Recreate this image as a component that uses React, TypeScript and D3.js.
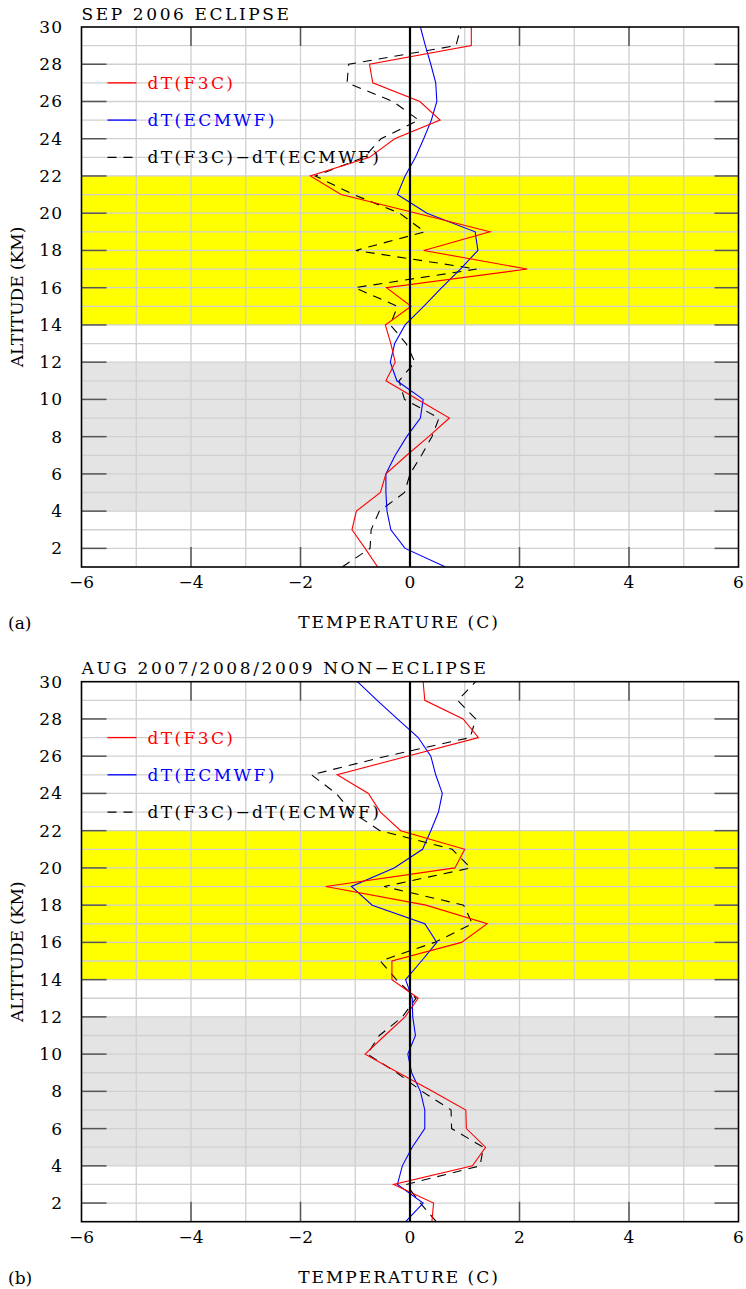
import * as d3 from 'd3';

// altitude levels (km), bottom to top
const altitudes = [1, 2, 3, 4, 5, 6, 7, 8, 9, 10, 11, 12, 13, 14, 15, 16, 17, 18, 19, 20, 21, 22, 23, 24, 25, 26, 27, 28, 29, 30];

// (a) SEP 2006 ECLIPSE
const f3cA = [-0.59, -0.82, -1.06, -0.98, -0.54, -0.44, -0.06, 0.34, 0.72, 0.14, -0.44, -0.27, -0.35, -0.45, 0.02, -0.43, 2.14, 0.25, 1.46, 0.12, -1.26, -1.82, -0.74, -0.28, 0.55, 0.18, -0.68, -0.74, 1.12, 1.12];
const ecmwfA = [0.65, -0.09, -0.35, -0.42, -0.44, -0.44, -0.27, -0.06, 0.19, 0.24, -0.24, -0.36, -0.28, -0.09, 0.25, 0.58, 0.92, 1.24, 1.19, 0.31, -0.23, -0.09, 0.1, 0.25, 0.39, 0.49, 0.47, 0.38, 0.28, 0.19];
const diffA = [-1.24, -0.73, -0.71, -0.56, -0.1, 0.0, 0.21, 0.4, 0.53, -0.1, -0.2, 0.09, -0.07, -0.36, -0.23, -1.01, 1.22, -0.99, 0.27, -0.19, -1.03, -1.73, -0.84, -0.53, 0.16, -0.31, -1.15, -1.12, 0.84, 0.93];

// (b) AUG 2007/2008/2009 NON-ECLIPSE
const f3cB = [0.4, 0.43, -0.3, 1.14, 1.38, 1.03, 1.02, 0.41, -0.21, -0.82, -0.46, -0.09, 0.15, -0.33, -0.33, 0.94, 1.41, 0.29, -1.54, 0.82, 1.0, -0.17, -0.54, -0.76, -1.33, -0.05, 1.25, 0.97, 0.27, 0.24];
const ecmwfB = [-0.08, 0.24, -0.23, -0.14, 0.04, 0.27, 0.27, 0.19, 0.03, -0.04, 0.1, 0.05, 0.04, -0.08, 0.21, 0.49, 0.27, -0.69, -1.07, -0.29, 0.23, 0.38, 0.52, 0.59, 0.47, 0.38, 0.15, -0.23, -0.6, -0.96];
const diffB = [0.48, 0.19, -0.07, 1.28, 1.34, 0.76, 0.75, 0.22, -0.24, -0.78, -0.56, -0.14, 0.11, -0.25, -0.54, 0.45, 1.14, 0.98, -0.47, 1.11, 0.77, -0.55, -1.06, -1.35, -1.8, -0.43, 1.1, 1.2, 0.87, 1.2];

const xTicks = [-6, -4, -2, 0, 2, 4, 6];
const yTicks = [2, 4, 6, 8, 10, 12, 14, 16, 18, 20, 22, 24, 26, 28, 30];
const bands = [
  { from: 14, to: 22, color: '#ffff00' },
  { from: 4, to: 12, color: '#e4e4e4' },
];
const legendItems = [
  { label: 'dT(F3C)', color: '#ff0000', dash: '', alt: 27 },
  { label: 'dT(ECMWF)', color: '#0000ff', dash: '', alt: 25 },
  { label: 'dT(F3C)\u2212dT(ECMWF)', color: '#000000', dash: '9,7', alt: 23 },
];

const FONT = 'DejaVu Serif';
const left = 81.5, right = 738.5;
const plotH = 540;

function Panel({ top, title, tag, red, blue, diff }) {
  const x = d3.scaleLinear().domain([-6, 6]).range([left, right]);
  const y = d3.scaleLinear().domain([1, 30]).range([top + plotH, top]);
  const line = (vals) =>
    d3.line<number>().x((d) => x(d)).y((_, i) => y(altitudes[i]))(vals) as string;

  const vGrid = d3.range(-5, 6);
  const hGrid = d3.range(2, 30);
  const minus = (v) => (v < 0 ? '\u2212' + Math.abs(v) : String(v));

  return (
    <g>
      <defs>
        <clipPath id={'clip' + top}>
          <rect x={left} y={top} width={right - left} height={plotH} />
        </clipPath>
      </defs>
      {bands.map((b) => (
        <rect key={b.from} x={left} width={right - left} y={y(b.to)} height={y(b.from) - y(b.to)} fill={b.color} />
      ))}
      {vGrid.map((v) => (
        <line key={'v' + v} x1={x(v)} x2={x(v)} y1={top} y2={top + plotH} stroke="#d0d0d0" strokeWidth={1.3} />
      ))}
      {hGrid.map((v) => (
        <line key={'h' + v} x1={left} x2={right} y1={y(v)} y2={y(v)} stroke="#d0d0d0" strokeWidth={1.3} />
      ))}
      {/* ticks */}
      {yTicks.filter((t) => t < 30).map((t) => (
        <g key={'yt' + t} stroke="#555" strokeWidth={1.5}>
          <line x1={left} x2={left + 25} y1={y(t)} y2={y(t)} />
          <line x1={right - 24} x2={right} y1={y(t)} y2={y(t)} />
        </g>
      ))}
      {xTicks.filter((t) => Math.abs(t) < 6 && t !== 0).map((t) => (
        <g key={'xt' + t} stroke="#555" strokeWidth={1.5}>
          <line x1={x(t)} x2={x(t)} y1={top} y2={top + 19} />
          <line x1={x(t)} x2={x(t)} y1={top + plotH} y2={top + plotH - 20} />
        </g>
      ))}
      <g clipPath={`url(#clip${top})`} fill="none" strokeWidth={1.1}>
        <path d={line(diff)} stroke="#000" strokeDasharray="9,7" />
        <path d={line(blue)} stroke="#0000ff" />
        <path d={line(red)} stroke="#ff0000" />
      </g>
      <line x1={x(0)} x2={x(0)} y1={top} y2={top + plotH} stroke="#000" strokeWidth={2.2} />
      <rect x={left} y={top} width={right - left} height={plotH} fill="none" stroke="#000" strokeWidth={1.6} />
      {/* legend */}
      {legendItems.map((l) => (
        <g key={l.label}>
          <line x1={left + 26} x2={left + 55} y1={y(l.alt)} y2={y(l.alt)} stroke={l.color} strokeWidth={1.3} strokeDasharray={l.dash || undefined} />
          <text x={left + 66} y={y(l.alt) + 6} fill={l.color} fontFamily={FONT} fontSize={17} letterSpacing={2.4}>{l.label}</text>
        </g>
      ))}
      {/* tick labels */}
      {yTicks.map((t) => (
        <text key={'yl' + t} x={63} y={y(t) + 6} textAnchor="end" fontFamily={FONT} fontSize={17} letterSpacing={1}>{t}</text>
      ))}
      {xTicks.map((t) => (
        <text key={'xl' + t} x={x(t)} y={top + plotH + 21} textAnchor="middle" fontFamily={FONT} fontSize={17}>{minus(t)}</text>
      ))}
      <text x={left} y={top - 7.5} fontFamily={FONT} fontSize={17} letterSpacing={2.6}>{title}</text>
      <text x={399} y={top + plotH + 61} textAnchor="middle" fontFamily={FONT} fontSize={17} letterSpacing={2}>TEMPERATURE (C)</text>
      <text x={8} y={top + plotH + 62} fontFamily={FONT} fontSize={17}>{tag}</text>
      <text transform={`translate(23,${top + 270}) rotate(-90)`} textAnchor="middle" fontFamily={FONT} fontSize={17}>ALTITUDE (KM)</text>
    </g>
  );
}

export default function App() {
  return (
    <div style={{ position: 'absolute', left: 0, top: 0 }}>
      <svg width={746} height={1289} style={{ display: 'block', background: '#fff' }}>
        <Panel top={27} title={'SEP 2006 ECLIPSE'} tag="(a)" red={f3cA} blue={ecmwfA} diff={diffA} />
        <Panel top={681.7} title={'AUG 2007/2008/2009 NON\u2212ECLIPSE'} tag="(b)" red={f3cB} blue={ecmwfB} diff={diffB} />
      </svg>
    </div>
  );
}
